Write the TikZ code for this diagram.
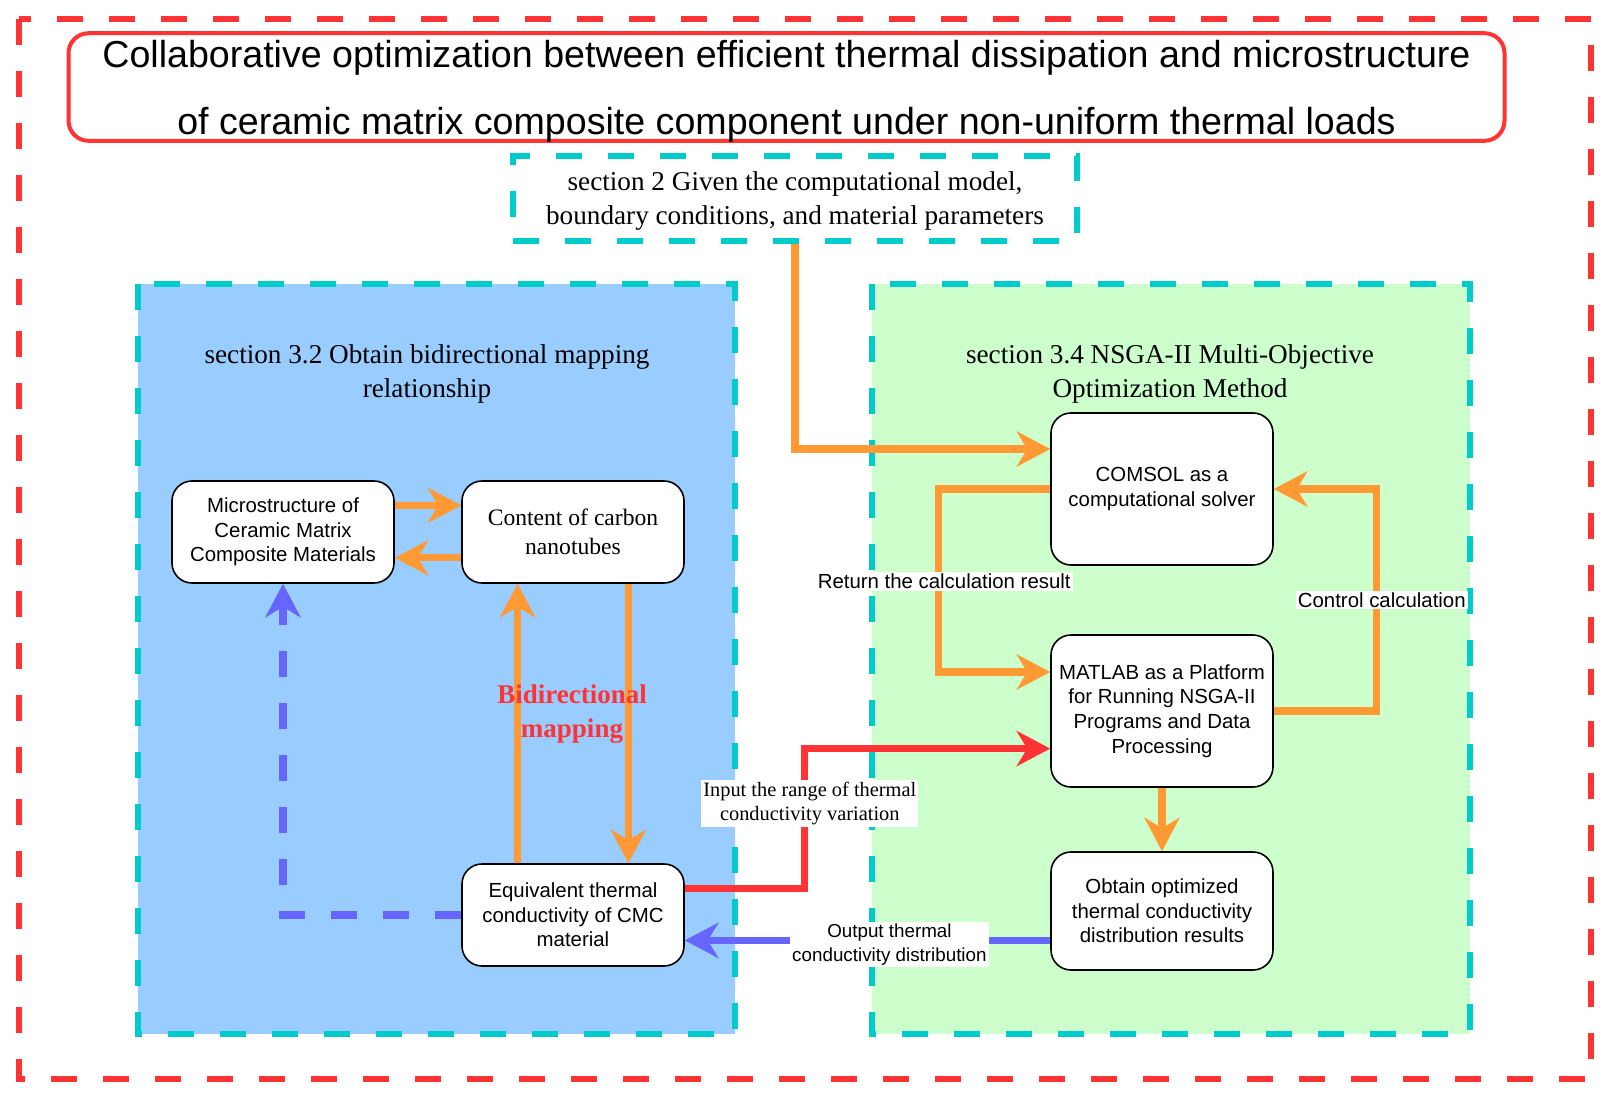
\documentclass[tikz,border=0pt]{standalone}
\usepackage{fontspec}
\setmainfont{Liberation Serif}
\setsansfont{Liberation Sans}
\usepackage{tikz}
\usetikzlibrary{positioning,arrows.meta}
\definecolor{cred}{HTML}{FF3333}
\definecolor{corange}{HTML}{FF9933}
\definecolor{ccyan}{HTML}{00CCCC}
\definecolor{cblue}{HTML}{99CCFF}
\definecolor{cgreen}{HTML}{CCFFCC}
\definecolor{cviolet}{HTML}{6666FF}
\tikzset{
  outerframe/.style={draw=cred, line width=3.2pt, dash pattern=on 13pt off 13pt},
  zone/.style={draw=ccyan, line width=3.2pt, dash pattern=on 13pt off 13pt},
  titlebox/.style={draw=cred, line width=2pt, rounded corners=10pt, fill=white, minimum width=718pt, minimum height=51pt, align=center, font=\sffamily\fontsize{18.8}{33.5}\selectfont},
  zonehead/.style={align=center, font=\fontsize{13.6}{17}\selectfont},
  box/.style={draw=black, line width=0.8pt, rounded corners=10pt, fill=white, minimum width=111pt, minimum height=51pt, align=center, inner sep=2pt, font=\sffamily\fontsize{10.2}{12.3}\selectfont},
  link/.style={line width=3.6pt, -{Stealth[length=17pt, width=18pt, inset=5.5pt, line width=0pt]}},
  Olink/.style={link, draw=corange},
  Rlink/.style={link, draw=cred},
  Blink/.style={link, draw=cviolet},
  lbl/.style={fill=white, inner sep=1pt, align=center, font=\sffamily\fontsize{10.2}{12.3}\selectfont}
}

\begin{document}
\begin{tikzpicture}[x=0.5pt, y=-0.5pt]
  \useasboundingbox (0,0) rectangle (1608,1097);
  \draw[outerframe] (19,19) rectangle (1591,1079);
  \node[titlebox, text depth=-1pt] (title) at (786.5,87) {Collaborative optimization between efficient thermal dissipation and microstructure\\of ceramic matrix composite component under non-uniform thermal loads};
  \node[zone, minimum width=282pt, minimum height=42.5pt] (given) at (795,198.5) {};
  \node[zonehead] (giventxt) at (795,201) {section 2 Given the computational model,\\boundary conditions, and material parameters};
  \draw[zone, fill=cblue] (138,284) rectangle (735,1034);
  \draw[zone, fill=cgreen] (872,284) rectangle (1470,1034);
  \node[zonehead] (lhead) at (427,374) {section 3.2 Obtain bidirectional mapping\\relationship};
  \node[zonehead] (rhead) at (1170,374) {section 3.4 NSGA-II Multi-Objective\\Optimization Method};

  \node[box] (micro) at (283,532) {Microstructure of\\Ceramic Matrix\\Composite Materials};
  \node[box, font=\fontsize{11.8}{14.5}\selectfont] (cnt) at (573,532) {Content of carbon\\nanotubes};
  \node[box] (equiv) at (573,915) {Equivalent thermal\\conductivity of CMC\\material};
  \node[box, minimum height=76pt] (comsol) at (1162,489) {COMSOL as a\\computational solver};
  \node[box, minimum height=76pt] (matlab) at (1162,711) {MATLAB as a Platform\\for Running NSGA-II\\Programs and Data\\Processing};
  \node[box, minimum height=59pt] (obtain) at (1162,911) {Obtain optimized\\thermal conductivity\\distribution results};

  \draw[Olink] ([yshift=13.3pt]micro.east) -- ([yshift=13.3pt]micro.east -| cnt.west);
  \draw[Olink] ([yshift=-12.9pt]cnt.west) -- ([yshift=-12.9pt]cnt.west -| micro.east);
  \draw[Olink] ([xshift=27.7pt]cnt.south) -- ([xshift=27.7pt]cnt.south |- equiv.north);
  \draw[Olink] ([xshift=-27.7pt]equiv.north) -- ([xshift=-27.7pt]equiv.north |- cnt.south);
  \draw[Blink, dash pattern=on 13pt off 13pt] (equiv.west) -| (micro.south);
  \node[font=\bfseries\fontsize{13.5}{17}\selectfont, text=cred, align=center] (bimap) at (572,714) {Bidirectional\\mapping};

  \draw[Olink] (given.south) |- ([yshift=20pt]comsol.west);
  \draw[Olink] (comsol.west) -- ++(-112,0) |- node[lbl, pos=0.25, xshift=3pt, yshift=-0.5pt] (ret) {Return the calculation result} ([yshift=19.5pt]matlab.west);
  \draw[Olink] (matlab.east) -- ++(103,0) |- node[lbl, pos=0.25, xshift=2.5pt] (ctrl) {Control calculation} (comsol.east);
  \draw[Olink] (matlab.south) -- (obtain.north);
  \draw[Rlink] ([yshift=13.4pt]equiv.east) -- ++(120,0) |- node[lbl, pos=0.31, xshift=2.5pt, yshift=-1pt, font=\fontsize{10.2}{12.3}\selectfont] (inp) {Input the range of thermal\\conductivity variation} ([yshift=-18.8pt]matlab.west);
  \draw[Blink] ([yshift=-14.7pt]obtain.west) -- node[lbl, pos=0.44, yshift=-2pt, font=\sffamily\fontsize{9.4}{11.8}\selectfont] (outp) {Output thermal\\conductivity distribution} ([yshift=-14.7pt]obtain.west -| equiv.east);
\end{tikzpicture}
\end{document}
